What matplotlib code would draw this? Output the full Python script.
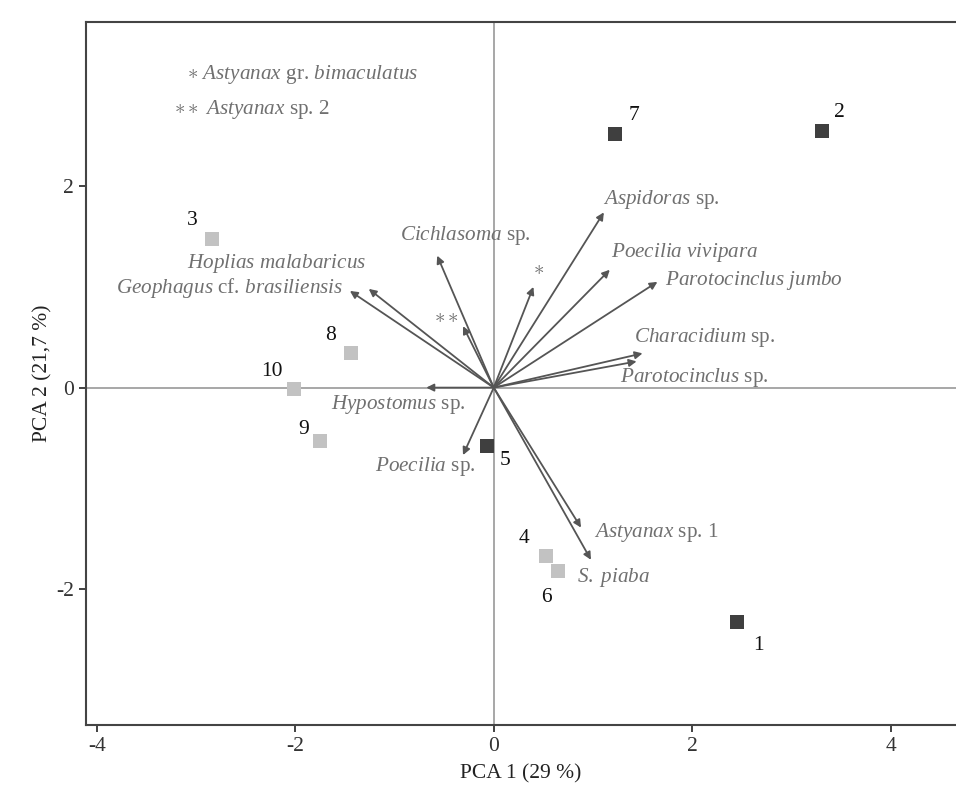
import matplotlib
matplotlib.use('Agg')
import matplotlib.pyplot as plt

plt.rcParams['font.family'] = ['Liberation Serif', 'DejaVu Serif']
plt.rcParams['mathtext.fontset'] = 'custom'
plt.rcParams['mathtext.rm'] = 'Liberation Serif'
plt.rcParams['mathtext.it'] = 'Liberation Serif:italic'
plt.rcParams['mathtext.sf'] = 'Liberation Serif'
plt.rcParams['axes.unicode_minus'] = False

# sites (PCA scores)
site_ids = ['1', '2', '3', '4', '5', '6', '7', '8', '9', '10']
site_x = [2.45, 3.31, -2.84, 0.53, -0.07, 0.65, 1.22, -1.44, -1.75, -2.01]
site_y = [-2.33, 2.55, 1.48, -1.67, -0.58, -1.82, 2.52, 0.34, -0.53, -0.01]
site_group = ['dark', 'dark', 'light', 'light', 'dark', 'light', 'dark', 'light', 'light', 'light']

# species loadings (arrow tips)
species = ['Aspidoras', 'Poecilia vivipara', 'Parotocinclus jumbo', 'Characidium',
           'Parotocinclus sp', 'Astyanax gr. bimaculatus', 'Cichlasoma', 'Astyanax sp. 2',
           'Hoplias malabaricus', 'Geophagus cf. brasiliensis', 'Hypostomus',
           'Poecilia sp', 'Astyanax sp. 1', 'S. piaba']
load_x = [1.11, 1.17, 1.65, 1.50, 1.44, 0.40, -0.57, -0.31, -1.26, -1.45, -0.68, -0.31, 0.88, 0.98]
load_y = [1.74, 1.17, 1.05, 0.34, 0.26, 1.00, 1.31, 0.61, 0.98, 0.96, 0.00, -0.67, -1.39, -1.71]

# label text and placement (layout)
sp_text = [r'$\it{Aspidoras}$ sp.', r'$\it{Poecilia\ vivipara}$', r'$\it{Parotocinclus\ jumbo}$',
           r'$\it{Characidium}$ sp.', r'$\it{Parotocinclus}$ sp.', r'$\ast$', r'$\it{Cichlasoma}$ sp.',
           r'$\ast\ast$', r'$\it{Hoplias\ malabaricus}$', r'$\it{Geophagus}$ cf. $\it{brasiliensis}$',
           r'$\it{Hypostomus}$ sp.', r'$\it{Poecilia}$ sp.', r'$\it{Astyanax}$ sp. 1', r'$\it{S.\ piaba}$']
sp_pos = [(1.10, 1.87, 'left'), (1.18, 1.34, 'left'), (1.73, 1.06, 'left'), (1.41, 0.50, 'left'),
          (1.27, 0.10, 'left'), (0.45, 1.17, 'center'), (-0.94, 1.51, 'left'), (-0.48, 0.70, 'center'),
          (-3.09, 1.23, 'left'), (-3.81, 0.99, 'left'), (-1.64, -0.17, 'left'), (-1.20, -0.78, 'left'),
          (1.01, -1.44, 'left'), (0.84, -1.89, 'left')]
site_lbl_pos = [(2.67, -2.56), (3.48, 2.73), (-3.04, 1.66), (0.31, -1.50), (0.11, -0.72),
                (0.53, -2.08), (1.41, 2.70), (-1.64, 0.52), (-1.92, -0.42), (-2.24, 0.16)]

fig = plt.figure(figsize=(9.56, 7.85), dpi=100)
ax = fig.add_axes([0.090, 0.0764, 0.910, 0.8956])
ax.set_xlim(-4.11, 4.66)
ax.set_ylim(-3.35, 3.63)

ax.axhline(0, color='#a0a0a0', lw=1.3, zorder=1)
ax.axvline(0, color='#a0a0a0', lw=1.3, zorder=1)

cols = {'dark': '#3f3f3f', 'light': '#c2c2c2'}
for x, y, g in zip(site_x, site_y, site_group):
    ax.scatter(x, y, marker='s', s=110, color=cols[g], zorder=3, linewidths=0)
for lbl, (tx, ty) in zip(site_ids, site_lbl_pos):
    ax.text(tx, ty, lbl, fontsize=15.5, color='#111111', ha='center', va='center')

for x, y in zip(load_x, load_y):
    ax.annotate('', xy=(x, y), xytext=(0, 0),
                arrowprops=dict(arrowstyle='-|>', color='#555555', lw=1.3,
                                mutation_scale=11, shrinkA=0, shrinkB=0), zorder=2)
for t, (tx, ty, ha) in zip(sp_text, sp_pos):
    ax.text(tx, ty, t, fontsize=15.2, color='#707070', ha=ha, va='center')

# legend notes for the asterisks
ax.text(-3.09, 3.11, r'$\ast$ $\it{Astyanax}$ gr. $\it{bimaculatus}$', fontsize=15.2, color='#707070',
        ha='left', va='center')
ax.text(-3.22, 2.76, r'$\ast\ast$ $\it{Astyanax}$ sp. 2', fontsize=15.2, color='#707070',
        ha='left', va='center')

ax.set_xticks([-4, -2, 0, 2, 4])
ax.set_yticks([-2, 0, 2])
ax.tick_params(labelsize=15.5, colors='#333333', length=5, width=1.3)
for s in ['left', 'bottom', 'top']:
    ax.spines[s].set_color('#444444')
    ax.spines[s].set_linewidth(1.5)
ax.spines['right'].set_visible(False)

ax.set_xlabel('PCA 1 (29 %)', fontsize=15.5, color='#222222', labelpad=6)
ax.set_ylabel('PCA 2 (21,7 %)', fontsize=15.5, color='#222222', labelpad=3)

fig.savefig('out.png', dpi=100)
